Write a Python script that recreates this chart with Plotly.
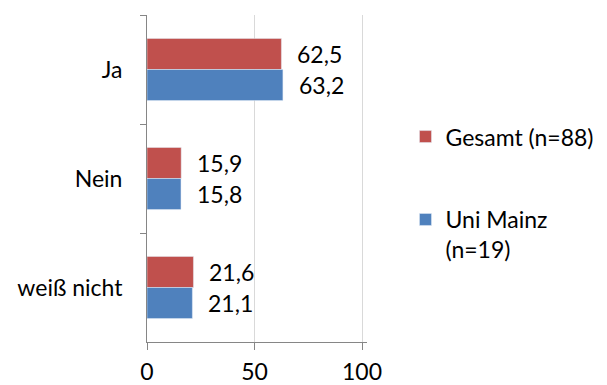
import plotly.graph_objects as go

categories = ["Ja", "Nein", "weiß nicht"]
gesamt = [62.5, 15.9, 21.6]
uni_mainz = [63.2, 15.8, 21.1]
series_names = ["Gesamt (n=88)", "Uni Mainz<br>(n=19)"]
series_colors = ["#C0504D", "#4F81BD"]
x_ticks = [0, 50, 100]

FONT = "Lato, Calibri, sans-serif"
FS = 23

fig = go.Figure()
for name, vals, color, group in zip(series_names, [gesamt, uni_mainz], series_colors, ["g", "u"]):
    fig.add_trace(go.Bar(
        y=categories, x=vals, orientation="h", name=name,
        marker=dict(color=color), legendgroup=group,
        hoverinfo="skip",
    ))

def fmt(v):
    return f"{v:.1f}".replace(".", ",")

# value labels to the right of each bar, red bar sits above its category centre
for vals, shift in [(gesamt, 15.5), (uni_mainz, -15.5)]:
    for cat, v in zip(categories, vals):
        fig.add_annotation(
            x=v, y=cat, text=fmt(v), showarrow=False,
            xanchor="left", xshift=14, yshift=shift,
            font=dict(family=FONT, size=FS, color="#000000"),
        )

fig.update_layout(
    width=607, height=385,
    margin=dict(l=147, r=240, t=15, b=43),
    paper_bgcolor="white", plot_bgcolor="white",
    barmode="group", bargap=0.43, bargroupgap=0,
    font=dict(family=FONT, size=FS, color="#000000"),
    showlegend=True,
    legend=dict(
        xref="container", yref="container",
        x=0.668, xanchor="left", y=0.701, yanchor="top",
        traceorder="grouped", tracegroupgap=50, valign="top",
        font=dict(family=FONT, size=FS, color="#000000"),
        bgcolor="rgba(0,0,0,0)",
    ),
    xaxis=dict(
        range=[0, 102.3], tickvals=x_ticks, ticktext=[str(t) for t in x_ticks],
        showgrid=True, gridcolor="#D9D9D9", gridwidth=1,
        showline=True, linecolor="#868686", linewidth=1,
        ticks="outside", ticklen=7, tickcolor="#868686",
        zeroline=False, ticklabelstandoff=2, automargin=False,
    ),
    yaxis=dict(
        categoryorder="array", categoryarray=categories, autorange="reversed",
        showline=True, linecolor="#868686", linewidth=1,
        ticks="outside", ticklen=6, tickcolor="#868686", tickson="boundaries",
        showgrid=False, zeroline=False, ticklabelstandoff=19, automargin=False,
    ),
)

fig.write_html("out.html")
